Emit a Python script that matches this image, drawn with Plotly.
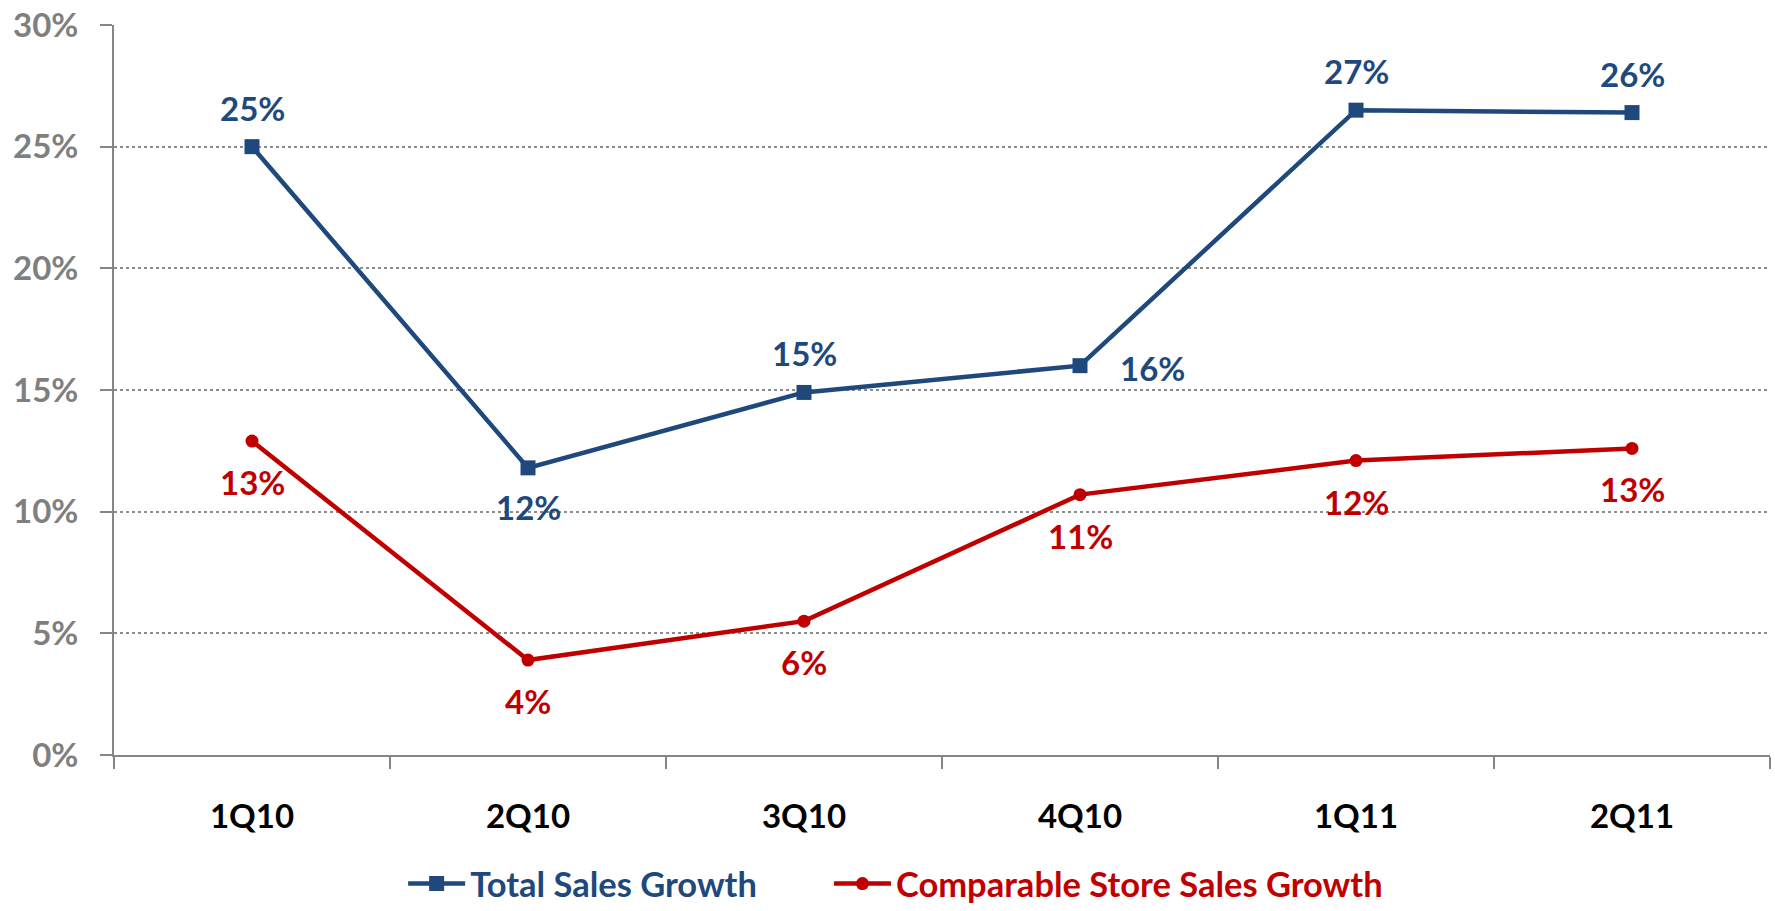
import plotly.graph_objects as go

# quarters and growth rates (percent)
quarters = ['1Q10', '2Q10', '3Q10', '4Q10', '1Q11', '2Q11']
total_growth = [25.0, 11.8, 14.9, 16.0, 26.5, 26.4]
comp_growth = [12.9, 3.9, 5.5, 10.7, 12.1, 12.6]
total_labels = ['25%', '12%', '15%', '16%', '27%', '26%']
comp_labels = ['13%', '4%', '6%', '11%', '12%', '13%']
# where each total label sits relative to its point
total_label_side = ['top', 'bottom', 'top', 'right', 'top', 'top']

blue = '#1F497D'
red = '#C00000'
grey = '#7F7F7F'
font = 'Lato'
fsize = 33

fig = go.Figure()
fig.add_trace(go.Scatter(
    x=quarters, y=total_growth,
    name='<span style="color:%s">Total Sales Growth</span>' % blue + '&nbsp;' * 8,
    mode='lines+markers',
    line=dict(color=blue, width=4.5), marker=dict(symbol='square', size=15, color=blue)))
fig.add_trace(go.Scatter(
    x=quarters, y=comp_growth,
    name='<span style="color:%s">Comparable Store Sales Growth</span>' % red,
    mode='lines+markers',
    line=dict(color=red, width=4.5), marker=dict(symbol='circle', size=13, color=red)))

# data labels
shifts = {'top': (0, 39), 'bottom': (0, -39), 'right': (72, -2)}
for q, v, t, side in zip(quarters, total_growth, total_labels, total_label_side):
    xs, ys = shifts[side]
    fig.add_annotation(x=q, y=v, text=t, showarrow=False, xshift=xs, yshift=ys,
                       font=dict(family=font, size=fsize, color=blue, weight='bold'))
for q, v, t in zip(quarters, comp_growth, comp_labels):
    fig.add_annotation(x=q, y=v, text=t, showarrow=False, yshift=-41,
                       font=dict(family=font, size=fsize, color=red, weight='bold'))

fig.update_layout(
    width=1775, height=911,
    margin=dict(l=114, r=5, t=25, b=156),
    plot_bgcolor='white', paper_bgcolor='white',
    font=dict(family=font),
    legend=dict(orientation='h', x=0.472, xanchor='center',
                yref='container', y=0.03, yanchor='middle',
                itemwidth=57, font=dict(size=34.5, weight='bold'), traceorder='normal'),
)
fig.update_xaxes(
    range=[-0.5, 5.5], tickson='boundaries', ticks='outside', ticklen=12,
    tickcolor='#868686', tickwidth=2, showline=True, linecolor='#868686', linewidth=2,
    showgrid=False, ticklabelstandoff=31, automargin=False,
    tickfont=dict(family=font, size=fsize, color='black', weight='bold'))
fig.update_yaxes(
    range=[0, 30], dtick=5, ticksuffix='%', ticks='outside', ticklen=12,
    tickcolor='#868686', tickwidth=2, showline=True, linecolor='#868686', linewidth=2,
    showgrid=True, gridcolor='#8C8C8C', griddash='dot', gridwidth=1.5,
    zeroline=False, ticklabelstandoff=15, automargin=False,
    tickfont=dict(family=font, size=fsize, color=grey, weight='bold'))

# drop the default page margin so the figure fills the window exactly
fig.write_html('out.html', config={'displayModeBar': False},
               post_script="document.body.style.margin='0';")
